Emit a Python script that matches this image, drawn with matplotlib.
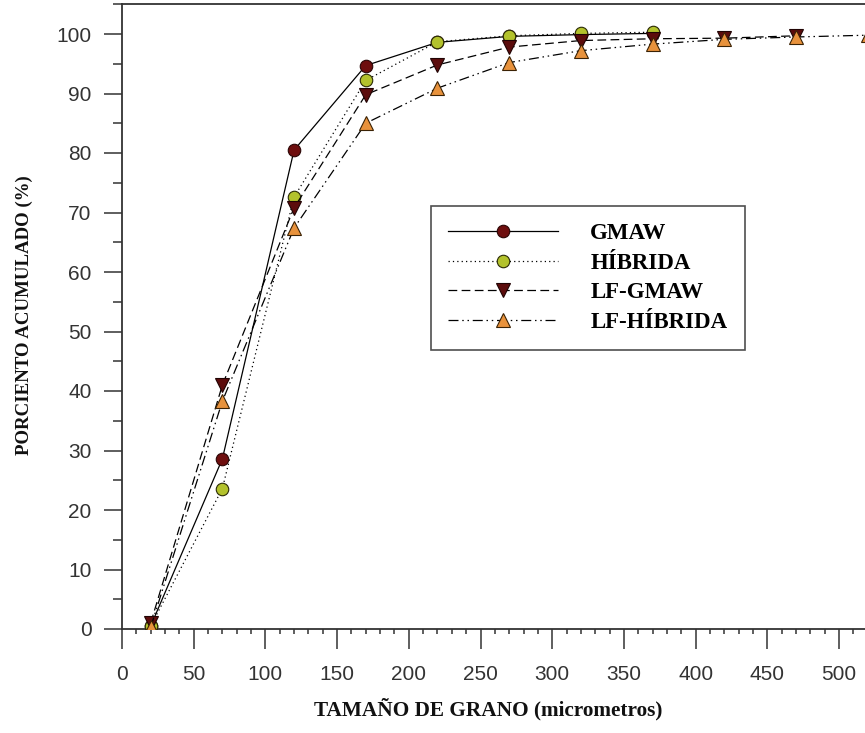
import matplotlib
matplotlib.use("Agg")
import matplotlib.pyplot as plt
from matplotlib.ticker import MultipleLocator

# data
x_gmaw = [20, 70, 120, 170, 220, 270, 320, 370]
gmaw = [0.5, 28.6, 80.5, 94.7, 98.6, 99.6, 99.9, 100.1]
x_hib = [20, 70, 120, 170, 220, 270, 320, 370]
hibrida = [0.5, 23.6, 72.6, 92.2, 98.7, 99.7, 100.1, 100.3]
x_lfg = [20, 70, 120, 170, 220, 270, 320, 370, 420, 470]
lf_gmaw = [1.0, 41.0, 70.8, 89.8, 94.8, 97.8, 98.9, 99.2, 99.3, 99.7]
x_lfh = [20, 70, 120, 170, 220, 270, 320, 370, 420, 470, 520]
lf_hibrida = [0.3, 38.3, 67.4, 85.0, 90.9, 95.2, 97.2, 98.3, 99.1, 99.5, 99.8]
labels = ["GMAW", "HÍBRIDA", "LF-GMAW", "LF-HÍBRIDA"]
xticks = list(range(0, 501, 50))
yticks = list(range(0, 101, 10))

W, H = 865, 733
fig = plt.figure(figsize=(W / 100, H / 100), dpi=100)
x0, y0 = 122, 629
xmax, ymax = 540, 105
pxx = (839 - 122) / 500.0
pxy = (629 - 34) / 100.0
ax = fig.add_axes([x0 / W, (H - y0) / H, xmax * pxx / W, ymax * pxy / H])

lw = 0.9
ax.plot(x_gmaw, gmaw, color="black", lw=lw, ls="-", marker="o", ms=9,
        mfc="#6E0E0E", mec="#2a0505", mew=0.8, label=labels[0], zorder=3)
ax.plot(x_hib, hibrida, color="black", lw=lw, ls=(0, (1, 2.5)), marker="o", ms=9,
        mfc="#B3C22C", mec="#2a2a05", mew=0.8, label=labels[1], zorder=3)
ax.plot(x_lfg, lf_gmaw, color="black", lw=lw, ls=(0, (7, 3.5)), marker="v", ms=10,
        mfc="#5C0C0C", mec="#200303", mew=0.8, label=labels[2], zorder=3)
ax.plot(x_lfh, lf_hibrida, color="black", lw=lw, ls=(0, (8, 3, 1.2, 3, 1.2, 3)),
        marker="^", ms=10, mfc="#E8923C", mec="#3a2205", mew=0.8,
        label=labels[3], zorder=3)

ax.set_xlim(0, xmax)
ax.set_ylim(0, ymax)
ax.set_xticks(xticks)
ax.set_yticks(yticks)
ax.xaxis.set_minor_locator(MultipleLocator(10))
ax.yaxis.set_minor_locator(MultipleLocator(5))

spc = "#333333"
for s in ["left", "bottom", "top"]:
    ax.spines[s].set_color(spc)
    ax.spines[s].set_linewidth(1.3)
ax.spines["right"].set_visible(False)

ax.tick_params(axis="x", which="major", direction="out", length=14.5, width=1.1,
               color=spc, pad=11.5, labelsize=15, labelcolor="#333333")
ax.tick_params(axis="x", which="minor", direction="out", length=3.8, width=1.1, color=spc)
ax.tick_params(axis="y", which="major", direction="out", length=13, width=1.1,
               color=spc, pad=9, labelsize=15, labelcolor="#333333")
ax.tick_params(axis="y", which="minor", direction="out", length=6.5, width=1.1, color=spc)
for lab in ax.get_xticklabels() + ax.get_yticklabels():
    lab.set_fontfamily("Liberation Sans")

fig.text(488 / W, 1 - 709 / H, "TAMAÑO DE GRANO (micrometros)", ha="center", va="center",
         fontsize=15.3, fontweight="bold", family="Liberation Serif", color="#111111")
fig.text(24 / W, 1 - 315 / H, "PORCIENTO ACUMULADO (%)", ha="center", va="center",
         rotation=90, fontsize=13.6, fontweight="bold", family="Liberation Serif",
         color="#111111")

leg = ax.legend(loc="upper left", bbox_to_anchor=(431 / W, 1 - 206 / H),
                bbox_transform=fig.transFigure, frameon=True, fancybox=False,
                edgecolor="#222222", handlelength=4.8, handletextpad=1.4,
                labelspacing=0.37, borderpad=0.75, borderaxespad=0,
                prop={"family": "Liberation Serif", "weight": "bold", "size": 16.5})
leg.get_frame().set_linewidth(1.2)
leg.set_zorder(5)

fig.savefig("out.png", dpi=100)
